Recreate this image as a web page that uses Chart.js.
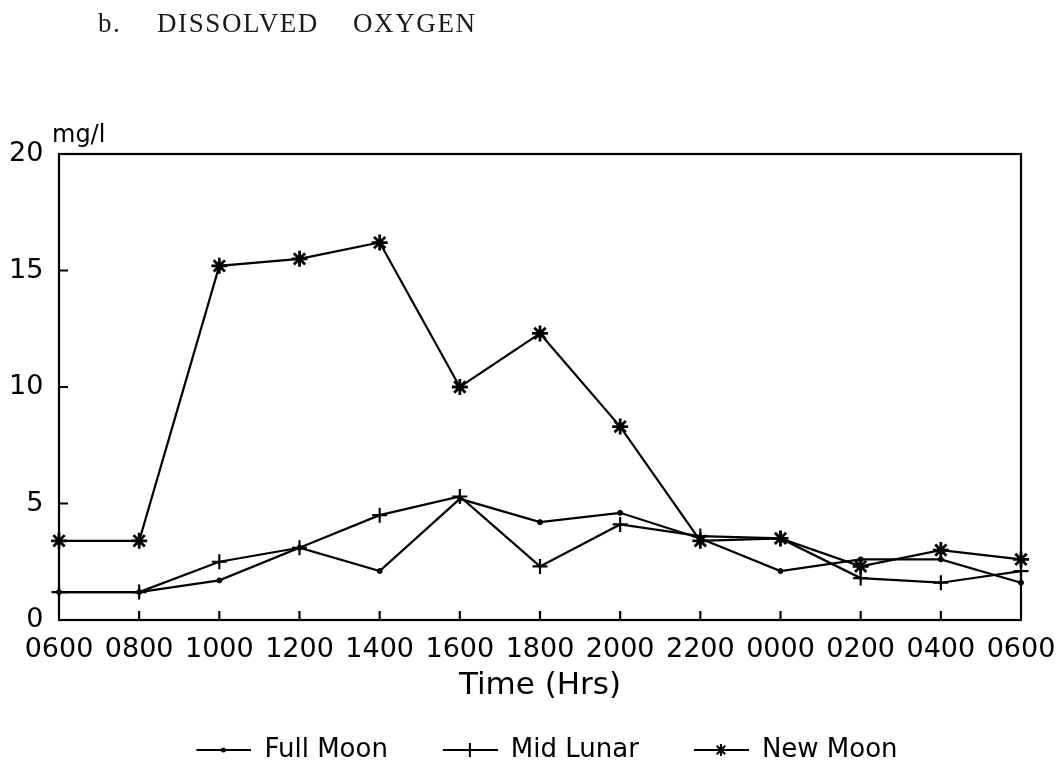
<!DOCTYPE html>
<html>
<head>
<meta charset="utf-8">
<title>Dissolved Oxygen</title>
<script src="https://cdn.jsdelivr.net/npm/chart.js@4"></script>
<style>
  body { margin: 0; background: #fff; }
  #wrap { width: 1064px; height: 773px; }
</style>
</head>
<body>
<div id="wrap"><canvas id="doChart" width="1064" height="773"></canvas></div>
<script>
// Sampling times (24 h clock, one full day)
const hours = ['0600', '0800', '1000', '1200', '1400', '1600', '1800', '2000', '2200', '0000', '0200', '0400', '0600'];

// Dissolved oxygen, mg/l
const fullMoon = [1.2, 1.2, 1.7, 3.1, 2.1, 5.2, 4.2, 4.6, 3.5, 2.1, 2.6, 2.6, 1.6];
const midLunar = [1.2, 1.2, 2.5, 3.1, 4.5, 5.3, 2.3, 4.1, 3.6, 3.5, 1.8, 1.6, 2.1];
const newMoon = [3.4, 3.4, 15.2, 15.5, 16.2, 10.0, 12.3, 8.3, 3.4, 3.5, 2.3, 3.0, 2.6];

const seriesNames = ['Full Moon', 'Mid Lunar', 'New Moon'];
const yTicks = [0, 5, 10, 15, 20];

Chart.defaults.font.family = '"DejaVu Sans", sans-serif';
Chart.defaults.color = '#000';

// legend sample: a short line with the series marker in the middle
function legendGlyph(style) {
    const c = document.createElement('canvas');
    c.width = 100;
    c.height = 22;
    const g = c.getContext('2d');
    g.strokeStyle = '#000';
    g.fillStyle = '#000';
    g.lineWidth = 2;
    g.beginPath();
    g.moveTo(45, 11);
    g.lineTo(100, 11);
    g.stroke();
    const cx = 72, cy = 11;
    g.beginPath();
    if (style === 'circle') {
        g.arc(cx, cy, 2.5, 0, Math.PI * 2);
        g.fill();
    } else if (style === 'cross') {
        g.moveTo(cx, cy - 7);
        g.lineTo(cx, cy + 7);
        g.stroke();
    } else {
        const r = 6;
        g.moveTo(cx, cy - r); g.lineTo(cx, cy + r);
        const d = r * Math.SQRT1_2;
        g.moveTo(cx - d, cy - d); g.lineTo(cx + d, cy + d);
        g.moveTo(cx + d, cy - d); g.lineTo(cx - d, cy + d);
        g.stroke();
    }
    return c;
}

const glyphs = [legendGlyph('circle'), legendGlyph('cross'), legendGlyph('star')];

// box round the plot, inward tick marks, unit label and heading
const frame = {
    id: 'frame',
    beforeDatasetsDraw(chart) {
        const {ctx, chartArea: a, scales: {x, y}} = chart;
        ctx.save();
        ctx.strokeStyle = '#000';
        ctx.lineWidth = 2.2;
        ctx.strokeRect(a.left, a.top, a.right - a.left, a.bottom - a.top);
        ctx.beginPath();
        x.ticks.forEach((t, i) => {
            if (i === 0 || i === x.ticks.length - 1) return;
            const px = x.getPixelForTick(i);
            ctx.moveTo(px, a.bottom);
            ctx.lineTo(px, a.bottom - 9);
        });
        y.ticks.forEach((t, i) => {
            if (t.value === 0 || t.value === 20) return;
            const py = y.getPixelForTick(i);
            ctx.moveTo(a.left, py);
            ctx.lineTo(a.left + 9, py);
        });
        ctx.stroke();
        ctx.restore();
    },
    afterDraw(chart) {
        const {ctx, chartArea: a} = chart;
        ctx.save();
        ctx.fillStyle = '#000';
        ctx.textAlign = 'left';
        ctx.textBaseline = 'alphabetic';
        ctx.font = '24px "DejaVu Sans"';
        ctx.fillText('mg/l', a.left - 7, a.top - 12);

        ctx.fillStyle = '#1a1a1a';
        ctx.font = '27px "Liberation Serif"';
        ctx.letterSpacing = '1.6px';
        ctx.fillText('b.', 98, 32);
        ctx.fillText('DISSOLVED', 157, 32);
        ctx.fillText('OXYGEN', 353, 32);
        ctx.restore();
    }
};

const lineStyle = {
    borderColor: '#000',
    backgroundColor: '#000',
    borderWidth: 2.2,
    pointBorderColor: '#000',
    pointBackgroundColor: '#000',
    tension: 0,
    fill: false,
    clip: false
};

new Chart(document.getElementById('doChart'), {
    type: 'line',
    data: {
        labels: hours,
        datasets: [
            { ...lineStyle, label: seriesNames[0], data: fullMoon, pointStyle: 'circle', pointRadius: 2.5, pointBorderWidth: 1 },
            { ...lineStyle, label: seriesNames[1], data: midLunar, pointStyle: 'cross', pointRadius: 7.5, pointBorderWidth: 2.2 },
            { ...lineStyle, label: seriesNames[2], data: newMoon, pointStyle: 'star', pointRadius: 8, pointBorderWidth: 2.8 }
        ]
    },
    options: {
        responsive: false,
        animation: false,
        layout: { padding: { top: 154, left: 28, right: 43, bottom: 0 } },
        plugins: {
            tooltip: { enabled: false },
            legend: {
                position: 'bottom',
                labels: {
                    usePointStyle: true,
                    pointStyleWidth: 100,
                    boxHeight: 22,
                    padding: 10,
                    font: { size: 26 },
                    color: '#000',
                    generateLabels: chart => chart.data.datasets.map((ds, i) => ({
                        text: ds.label,
                        pointStyle: glyphs[i],
                        datasetIndex: i,
                        fillStyle: '#000',
                        strokeStyle: '#000',
                        lineWidth: 0,
                        hidden: false,
                        fontColor: '#000'
                    }))
                }
            }
        },
        scales: {
            x: {
                grid: { display: false, drawTicks: true, tickLength: 8 },
                border: { display: false },
                ticks: { autoSkip: false, maxRotation: 0, font: { size: 27 }, padding: 6 },
                title: { display: true, text: 'Time (Hrs)', font: { size: 31 }, padding: { top: 0, bottom: 22 } },
                afterFit: scale => { scale.height = 107; }
            },
            y: {
                min: yTicks[0],
                max: yTicks[yTicks.length - 1],
                grid: { display: false },
                border: { display: false },
                // labels sit left of the axis; mirrored so they are not clipped to the narrow axis box
                ticks: { stepSize: 5, font: { size: 27 }, mirror: true, crossAlign: 'far', padding: -50 },
                afterFit: scale => { scale.width = 31; }
            }
        }
    },
    plugins: [frame]
});
</script>
</body>
</html>
